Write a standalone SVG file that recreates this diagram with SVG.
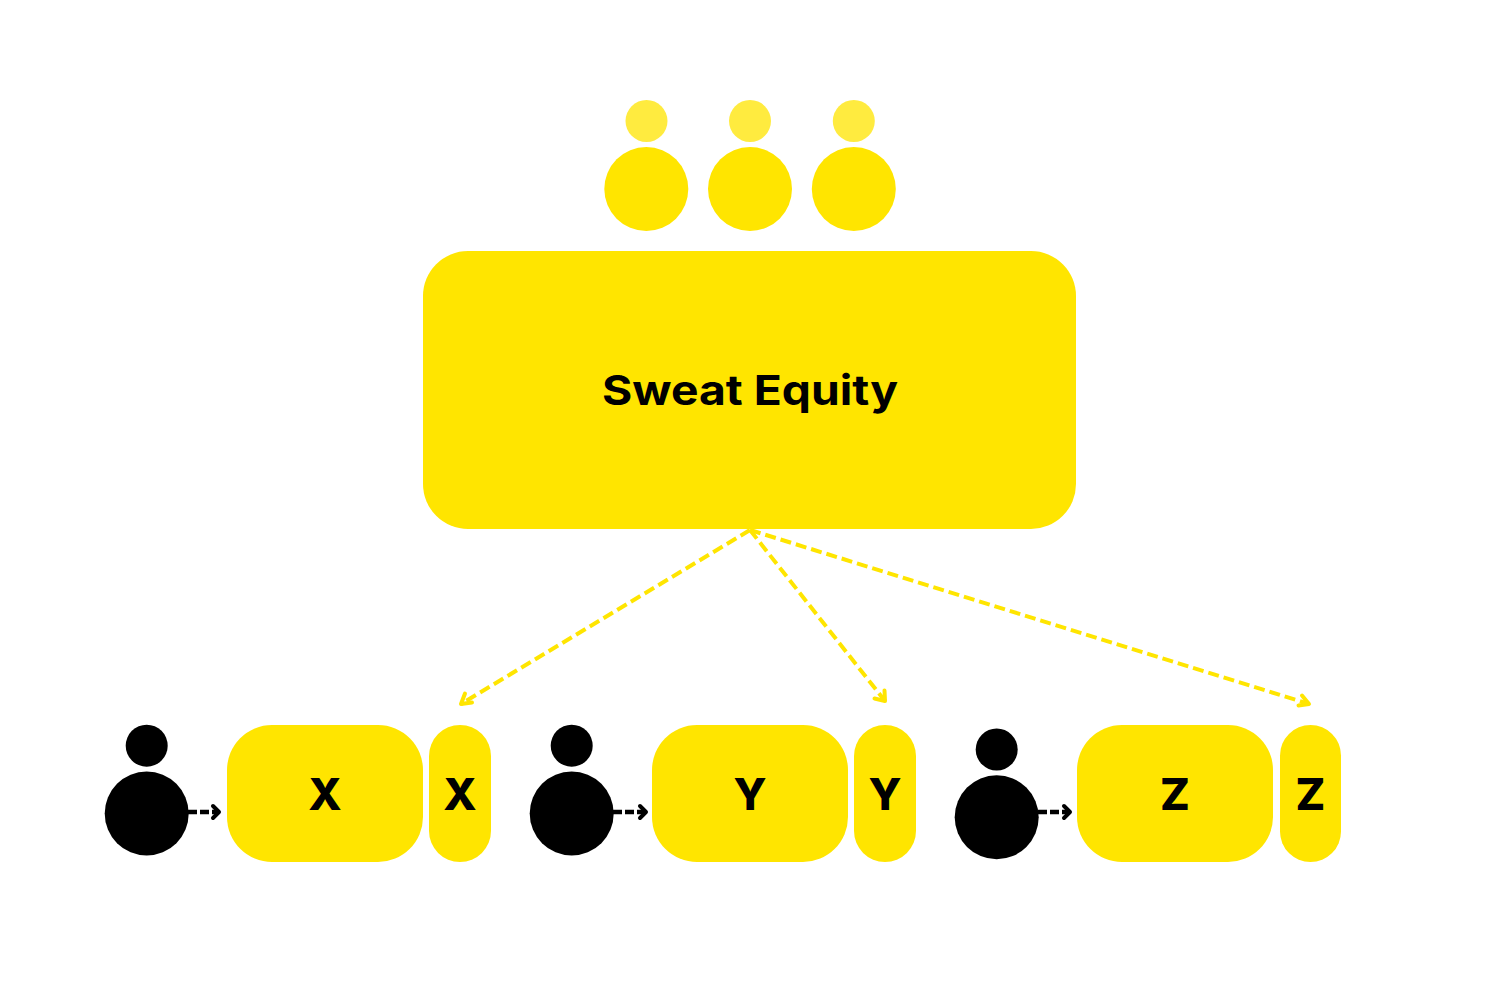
<svg xmlns="http://www.w3.org/2000/svg" width="1500" height="1000" viewBox="0 0 1500 1000">
<style>
.y{fill:#ffe500}
.h{fill:#ffeb3f}
.k{fill:#000}
.t{font-family:"Inter","Liberation Sans",sans-serif;font-weight:800;fill:#000;text-anchor:middle}
.l{font-size:44px}
.c{fill:none;stroke-width:4;stroke-dasharray:11 5}
.d{fill:none;stroke-width:4.500;stroke-dasharray:9 3}
.a{fill:none;stroke-width:4;stroke-linecap:round;stroke-linejoin:round}
.cy{stroke:#ffe500}
.ck{stroke:#000}
</style>
<rect width="1500" height="1000" fill="#fff"/>
<g id="founder-1"><circle class="h" cx="646.500" cy="121" r="21"/><circle class="y" cx="646.300" cy="189" r="42"/></g>
<g id="founder-2"><circle class="h" cx="750" cy="121" r="21"/><circle class="y" cx="750" cy="189" r="42"/></g>
<g id="founder-3"><circle class="h" cx="853.800" cy="121" r="21"/><circle class="y" cx="853.800" cy="189" r="42"/></g>
<g id="sweat-equity"><rect class="y" x="423" y="251" width="653" height="278" rx="45"/><text class="t" x="750" y="405" font-size="41" style="font-weight:700" textLength="296" lengthAdjust="spacingAndGlyphs">Sweat Equity</text></g>
<g id="person-x"><circle class="k" cx="146.700" cy="745.700" r="21"/><circle class="k" cx="146.700" cy="813.500" r="42"/></g>
<g id="box-x"><rect class="y" x="227" y="725" width="196" height="137" rx="45"/><text class="t l" x="325" y="810">X</text></g>
<g id="tab-x"><rect class="y" x="429" y="725" width="62" height="137" rx="31"/><text class="t l" x="460" y="810">X</text></g>
<g id="person-y"><circle class="k" cx="571.700" cy="745.700" r="21"/><circle class="k" cx="571.700" cy="813.500" r="42"/></g>
<g id="box-y"><rect class="y" x="652" y="725" width="196" height="137" rx="45"/><text class="t l" x="750" y="810">Y</text></g>
<g id="tab-y"><rect class="y" x="854" y="725" width="62" height="137" rx="31"/><text class="t l" x="885" y="810">Y</text></g>
<g id="person-z"><circle class="k" cx="996.700" cy="749.500" r="21"/><circle class="k" cx="996.700" cy="817.300" r="42"/></g>
<g id="box-z"><rect class="y" x="1077" y="725" width="196" height="137" rx="45"/><text class="t l" x="1175" y="810">Z</text></g>
<g id="tab-z"><rect class="y" x="1280" y="725" width="61" height="137" rx="30.500"/><text class="t l" x="1310.500" y="810">Z</text></g>
<g id="connectors">
<path class="c cy" d="M750 530L461 704"/><path class="a cy" d="M472 702.500L461 704L465 693.500"/>
<path class="c cy" d="M750 530L885 701"/><path class="a cy" d="M884.500 690.500L885 701L874.500 698.500"/>
<path class="c cy" d="M750 530L1309 704"/><path class="a cy" d="M1302 695.500L1309 704L1298.500 705.500"/>
<path class="d ck" d="M188 812H217"/><path class="a ck" d="M213 806L219 812L213 818"/>
<path class="d ck" d="M613 812H644"/><path class="a ck" d="M640 806L646 812L640 818"/>
<path class="d ck" d="M1038 812H1068"/><path class="a ck" d="M1064 806L1070 812L1064 818"/>
</g>
</svg>
